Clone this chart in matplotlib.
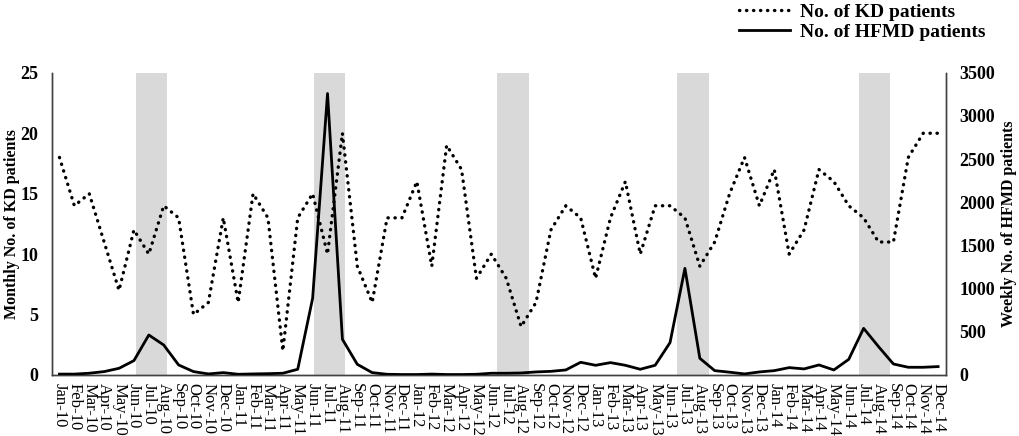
import matplotlib
matplotlib.use("Agg")
import matplotlib.pyplot as plt

plt.rcParams['font.family'] = ['Liberation Serif', 'DejaVu Serif']

# month labels Jan-10 .. Dec-14
months = ['Jan', 'Feb', 'Mar', 'Apr', 'May', 'Jun', 'Jul', 'Aug', 'Sep', 'Oct', 'Nov', 'Dec']
years = ['10', '11', '12', '13', '14']
labels = [m + '-' + y for y in years for m in months]

# monthly KD patients (left axis)
kd = [18, 14, 15, 11, 7, 12, 10, 14, 13, 5, 6, 13,
      6, 15, 13, 2, 13, 15, 10, 20, 9, 6, 13, 13,
      16, 9, 19, 17, 8, 10, 8, 4, 6, 12, 14, 13,
      8, 13, 16, 10, 14, 14, 13, 9, 11, 15, 18, 14,
      17, 10, 12, 17, 16, 14, 13, 11, 11, 18, 20, 20]

# weekly HFMD patients (right axis)
hfmd = [10, 10, 20, 39, 77, 166, 463, 347, 116, 39, 12, 27,
        8, 12, 15, 20, 66, 888, 3260, 413, 123, 27, 8, 5,
        5, 10, 5, 5, 8, 20, 20, 23, 35, 42, 58, 147,
        112, 143, 112, 66, 112, 375, 1235, 193, 50, 32, 12, 35,
        50, 85, 70, 116, 58, 181, 540, 328, 127, 89, 89, 97]

# shaded summer periods (start in month-index units)
summer_start = [5.15, 17.1, 29.4, 41.5, 53.7]
summer_width = 2.1

x = list(range(len(labels)))

fig = plt.figure(figsize=(10.2, 4.36), dpi=100)
ax = fig.add_axes([0.051, 0.140, 0.876, 0.693])
ax2 = ax.twinx()

for s in summer_start:
    ax.axvspan(s, s + summer_width, color='#d9d9d9', lw=0, zorder=0)

l1, = ax.plot(x, kd, color='black', lw=2.4, linestyle=(0, (0.1, 2.0)),
              dash_capstyle='round', zorder=3, label='No. of KD patients')
l2, = ax2.plot(x, hfmd, color='black', lw=2.0, zorder=3, label='No. of HFMD patients')

ax.set_xlim(-0.5, len(labels) - 0.5)
ax.set_ylim(0, 25)
ax.set_yticks([0, 5, 10, 15, 20, 25])
ax2.set_ylim(0, 3500)
ax2.set_yticks(range(0, 3501, 500))

ax.set_xticks(x)
ax.set_xticklabels(labels, rotation=270, fontsize=12, ha='center', va='top')

for a in (ax, ax2):
    a.tick_params(length=0)
    a.spines['top'].set_visible(False)
    for sp in ('left', 'right', 'bottom'):
        a.spines[sp].set_color('#404040')
        a.spines[sp].set_linewidth(1.0)
    for t in a.get_yticklabels():
        t.set_fontweight('bold')
        t.set_fontsize(13)

ax.tick_params(axis='y', pad=10)
ax2.tick_params(axis='y', pad=10)
ax.tick_params(axis='x', pad=6)

ax.set_ylabel('Monthly No. of KD patients', fontsize=11.5, fontweight='bold')
ax2.set_ylabel('Weekly No. of HFMD patients', fontsize=11.5, fontweight='bold')
ax.yaxis.set_label_coords(-0.036, 0.5)
ax2.yaxis.set_label_coords(1.062, 0.5)

fig.legend(handles=[l1, l2], loc='upper right', bbox_to_anchor=(0.983, 1.032),
           frameon=False, handlelength=2.6, handletextpad=0.5, labelspacing=0.1,
           prop={'weight': 'bold', 'size': 14})

fig.savefig('out.png', dpi=100)
